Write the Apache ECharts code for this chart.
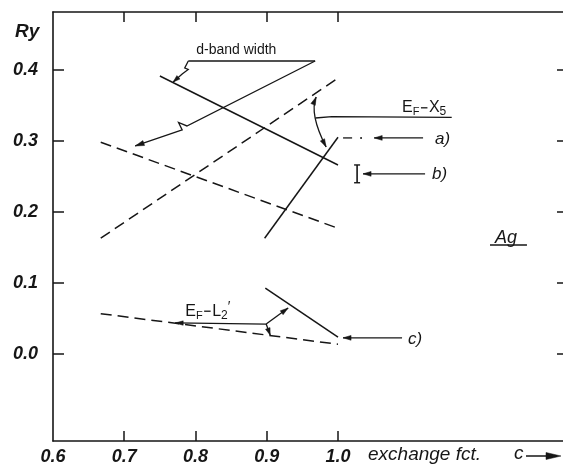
<!DOCTYPE html>
<html><head><meta charset="utf-8">
<script src="https://cdn.jsdelivr.net/npm/echarts@6/dist/echarts.min.js"></script>
<style>html,body{margin:0;padding:0;background:#fff}#c{width:563px;height:474px}</style>
</head><body><div id="c"></div>
<script>
// ---- axis ticks / labels ----
const cTicks = [0.7, 0.8, 0.9, 1.0];
const cLabels = [0.6, 0.7, 0.8, 0.9, 1.0];
const ryTicks = [0.0, 0.1, 0.2, 0.3, 0.4];

// ---- curves (exchange factor c, energy in Ry) ----
const dbandSolidC = [0.75, 1.0];
const dbandSolidRy = [0.391, 0.266];
const dbandDashC = [0.667, 1.0];
const dbandDashRy = [0.298, 0.177];
const x5DashC = [0.667, 1.0];
const x5DashRy = [0.163, 0.388];
const x5SolidC = [0.897, 1.0];
const x5SolidRy = [0.163, 0.305];
const l2DashC = [0.667, 1.0];
const l2DashRy = [0.057, 0.014];
const l2SolidC = [0.898, 1.0];
const l2SolidRy = [0.093, 0.024];

// ---- reference values a), b), c) ----
const refA = 0.304;
const refB = [0.241, 0.266];
const refC = 0.023;

const INK = '#161616';
const FONT = '"Liberation Sans", Arial, Helvetica, sans-serif';
const chart = echarts.init(document.getElementById('c'), null, {renderer: 'canvas'});

function pairs(xs, ys) { return xs.map((x, i) => [x, ys[i]]); }
const solid = {color: INK, width: 1.5, type: 'solid'};
const dashed = {color: INK, width: 1.5, type: [11, 6]};
function lineSeries(name, xs, ys, style) {
  return {name, type: 'line', xAxisIndex: 0, yAxisIndex: 0, data: pairs(xs, ys),
    symbol: 'none', showSymbol: false, lineStyle: style, silent: true, z: 5};
}
const axisLineStyle = {color: INK, width: 1.6};
const tickStyle = {color: INK, width: 1.5};
const labelStyle = {fontFamily: FONT, fontStyle: 'italic', fontWeight: 'bold', fontSize: 18, color: INK};

chart.setOption({
  animation: false,
  backgroundColor: '#fff',
  grid: {left: 53, right: -3, top: 12, bottom: 33, containLabel: false, outerBoundsMode: 'none'},
  xAxis: [
    {type: 'value', min: 0.6, max: 1.32, position: 'bottom',
     axisLine: {show: true, onZero: false, lineStyle: axisLineStyle},
     axisTick: {show: true, inside: true, length: 10, customValues: cTicks, lineStyle: tickStyle},
     axisLabel: Object.assign({show: true, customValues: cLabels, margin: 7, formatter: v => v.toFixed(1)}, labelStyle),
     splitLine: {show: false}},
    {type: 'value', min: 0.6, max: 1.32, position: 'top',
     axisLine: {show: true, onZero: false, lineStyle: axisLineStyle},
     axisTick: {show: true, inside: true, length: 10, customValues: cTicks, lineStyle: tickStyle},
     axisLabel: {show: false}, splitLine: {show: false}}
  ],
  yAxis: [
    {type: 'value', min: -0.122, max: 0.481, position: 'left',
     axisLine: {show: true, onZero: false, lineStyle: axisLineStyle},
     axisTick: {show: true, inside: true, length: 11, customValues: ryTicks, lineStyle: tickStyle},
     axisLabel: Object.assign({show: true, customValues: ryTicks, margin: 15, formatter: v => v.toFixed(1)}, labelStyle),
     splitLine: {show: false}},
    {type: 'value', min: -0.122, max: 0.481, position: 'right',
     axisLine: {show: true, onZero: false, lineStyle: axisLineStyle},
     axisTick: {show: true, inside: true, length: 9, customValues: ryTicks, lineStyle: tickStyle},
     axisLabel: {show: false}, splitLine: {show: false}}
  ],
  series: [
    lineSeries('d-band solid', dbandSolidC, dbandSolidRy, solid),
    lineSeries('d-band dashed', dbandDashC, dbandDashRy, dashed),
    lineSeries('EF-X5 dashed', x5DashC, x5DashRy, dashed),
    lineSeries('EF-X5 solid', x5SolidC, x5SolidRy, solid),
    lineSeries('EF-L2 dashed', l2DashC, l2DashRy, dashed),
    lineSeries('EF-L2 solid', l2SolidC, l2SolidRy, solid)
  ]
});

// ---------- annotations (anchored in data units) ----------
const P = p => chart.convertToPixel({xAxisIndex: 0, yAxisIndex: 0}, p);
const G = [];
const thin = {stroke: INK, lineWidth: 1.3, fill: null};

function head(tip, from, len, half) {
  const dx = tip[0] - from[0], dy = tip[1] - from[1];
  const L = Math.hypot(dx, dy), ux = dx / L, uy = dy / L;
  const bx = tip[0] - ux * len, by = tip[1] - uy * len;
  return {type: 'polygon', silent: true, z: 20,
    shape: {points: [tip, [bx - uy * half, by + ux * half], [bx + uy * half, by - ux * half]]},
    style: {fill: INK, stroke: INK, lineWidth: 0.5}};
}
function poly(ptsData, arrowEnd, len, half) {
  const pts = ptsData.map(P);
  G.push({type: 'polyline', silent: true, z: 20, shape: {points: pts}, style: Object.assign({}, thin)});
  if (arrowEnd) G.push(head(pts[pts.length - 1], pts[pts.length - 2], len || 8, half || 2.4));
}
const measurer = document.createElement('canvas').getContext('2d');
function textW(t, size, style) {
  measurer.font = (style || '') + ' ' + size + 'px ' + FONT;
  return measurer.measureText(t).width;
}
function text(x, y, t, size, opts) {
  opts = opts || {};
  let va = opts.va || 'middle';
  if (va === 'baseline') { y = y - 0.35 * size; va = 'middle'; }
  G.push({type: 'text', silent: true, z: 30,
    style: {x, y, text: t, fill: INK, fontFamily: FONT, fontSize: size,
      fontStyle: opts.italic ? 'italic' : 'normal', fontWeight: opts.bold ? 'bold' : 'normal',
      align: opts.align || 'left', verticalAlign: va}});
}
// run of text parts with subscripts, starting at left baseline
function run(anchor, parts) {
  let [x, y] = P(anchor);
  parts.forEach(pt => {
    if (pt.minus) {
      G.push({type: 'line', silent: true, z: 30, shape: {x1: x + 1.5, y1: y - 5.5, x2: x + pt.w - 1.5, y2: y - 5.5}, style: {stroke: INK, lineWidth: 1.3}});
      x += pt.w; return;
    }
    text(x, y + (pt.dy || 0), pt.t, pt.size, {va: 'baseline'});
    x += textW(pt.t, pt.size) + (pt.gap || 0);
  });
}

// d-band width label with bracket and broken arrows
(function () { const p = P([0.801, 0.4276]); text(p[0], p[1], 'd-band width', 14, {va: 'middle'}); })();
poly([[0.7899, 0.4121], [0.9679, 0.4121]], false);
poly([[0.7899, 0.4121], [0.7849, 0.4023], [0.7898, 0.4002], [0.7813, 0.3939], [0.7687, 0.3826]], true, 7, 2.3);
poly([[0.9679, 0.4121], [0.7879, 0.3208], [0.7762, 0.3257], [0.7813, 0.3152], [0.7154, 0.2927]], true, 9, 2.6);

// E_F - X_5 : curved double arrow with leader line
(function () {
  const s = P([0.9693, 0.3615]), c = P([0.9595, 0.3376]), e = P([0.9833, 0.2913]);
  G.push({type: 'bezierCurve', silent: true, z: 20,
    shape: {x1: s[0], y1: s[1], x2: e[0], y2: e[1], cpx1: c[0], cpy1: c[1]}, style: Object.assign({}, thin)});
  G.push(head(s, c, 8, 2.4));
  G.push(head(e, c, 8, 2.4));
})();
poly([[0.9683, 0.332], [0.9913, 0.3338], [1.1596, 0.333]], false);
run([1.0899, 0.3386], [
  {t: 'E', size: 16}, {t: 'F', size: 11, dy: 3}, {minus: true, w: 9.5},
  {t: 'X', size: 16}, {t: '5', size: 12, dy: 3}
]);

// a) reference mark
poly([[1.0071, refA], [1.0198, refA]], false);
G.push({type: 'circle', silent: true, z: 20, shape: (function () { const p = P([1.0324, refA]); return {cx: p[0], cy: p[1], r: 1}; })(), style: {fill: INK}});
poly([[1.1194, refA], [1.0508, refA]], true, 8, 2.4);
(function () { const p = P([1.1362, 0.3015]); text(p[0], p[1], 'a)', 17, {italic: true, va: 'middle'}); })();

// b) error bar
(function () {
  const lo = P([1.0268, refB[0]]), hi = P([1.0268, refB[1]]);
  G.push({type: 'polyline', silent: true, z: 20, shape: {points: [[lo[0], lo[1]], [hi[0], hi[1]]]}, style: {stroke: INK, lineWidth: 1.6, fill: null}});
  G.push({type: 'line', silent: true, z: 20, shape: {x1: lo[0] - 3, y1: lo[1], x2: lo[0] + 3, y2: lo[1]}, style: {stroke: INK, lineWidth: 1.4}});
  G.push({type: 'line', silent: true, z: 20, shape: {x1: hi[0] - 3, y1: hi[1], x2: hi[0] + 3, y2: hi[1]}, style: {stroke: INK, lineWidth: 1.4}});
})();
poly([[1.1222, (refB[0] + refB[1]) / 2], [1.0352, (refB[0] + refB[1]) / 2]], true, 8, 2.4);
(function () { const p = P([1.1320, 0.2535]); text(p[0], p[1], 'b)', 17, {italic: true, va: 'middle'}); })();

// c)
poly([[1.0899, refC], [1.0071, refC]], true, 8, 2.4);
(function () { const p = P([1.0983, 0.0214]); text(p[0], p[1], 'c)', 17, {italic: true, va: 'middle'}); })();

// E_F - L_2'
poly([[0.8992, 0.0424], [0.7715, 0.0439]], true, 8, 2.2);
poly([[0.8992, 0.0424], [0.9300, 0.0649]], true, 8, 2.4);
poly([[0.8992, 0.0424], [0.9048, 0.0270]], true, 7, 2.4);
run([0.7856, 0.0527], [
  {t: 'E', size: 16}, {t: 'F', size: 11, dy: 3}, {minus: true, w: 9.5},
  {t: 'L', size: 16}, {t: '2', size: 12, dy: 3}, {t: '\u2032', size: 14, dy: -5}
]);

// Ag
(function () {
  const p = P([1.2204, 0.1633]);
  text(p[0], p[1], 'Ag', 18, {italic: true, va: 'middle'});
})();
poly([[1.2133, 0.1535], [1.2652, 0.1535]], false);

// axis titles
text(15, 32, 'Ry', 19, {italic: true, bold: true, va: 'middle'});
text(368, 455, 'exchange fct.', 19, {italic: true, va: 'middle'});
text(514, 454, 'c', 19, {italic: true, va: 'middle'});
G.push({type: 'line', silent: true, z: 20, shape: {x1: 526, y1: 456, x2: 548, y2: 456}, style: {stroke: INK, lineWidth: 1.5}});
G.push(head([561, 456], [526, 456], 15, 3.5));

chart.setOption({graphic: {elements: G}});
</script>
</body></html>
